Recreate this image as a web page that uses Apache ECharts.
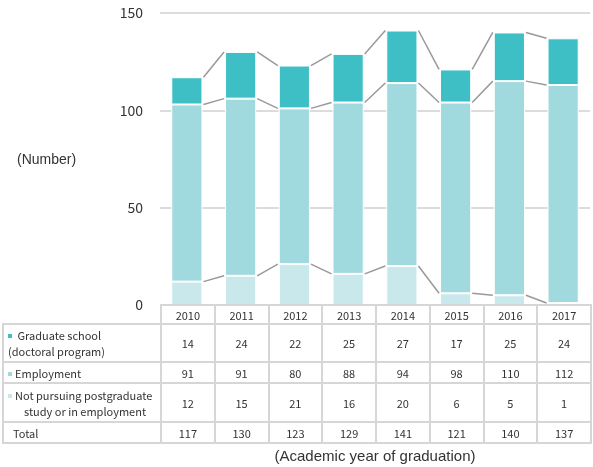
<!DOCTYPE html>
<html>
<head>
<meta charset="utf-8">
<script src="https://cdn.jsdelivr.net/npm/echarts@6/dist/echarts.min.js"></script>
<style>
  html, body { margin: 0; padding: 0; background: #fff; }
  #wrap { position: relative; width: 593px; height: 467px; }
  #chart { position: absolute; left: 0; top: 0; width: 593px; height: 467px; }
  #tbl {
    position: absolute; left: 2px; top: 304px;
    border-collapse: collapse; table-layout: fixed;
    font-family: "Noto Sans CJK JP", "DejaVu Sans", sans-serif; font-size: 11px; color: #333;
  }
  #tbl td { border: 2px solid #d6d6d6; padding: 0; text-align: center; line-height: 16px; }
  #tbl td.lab { text-align: left; padding-left: 4px; }
  #tbl td.blank { border: none; }
  .mk { display: inline-block; width: 4px; height: 4px; margin-right: 3px; vertical-align: middle; position: relative; top: -1px; }
  .ind { display: inline-block; padding-left: 16px; }
  #xname {
    position: absolute; left: 0; width: 750px; top: 447px; text-align: center;
    font-family: "Liberation Sans", Arial, sans-serif; font-size: 15px; color: #333;
  }
</style>
</head>
<body>
<div id="wrap">
  <div id="chart"></div>
  <table id="tbl"></table>
  <div id="xname">(Academic year of graduation)</div>
</div>
<script>
// 卒業年度
const years = ['2010', '2011', '2012', '2013', '2014', '2015', '2016', '2017'];
const doctoral = [14, 24, 22, 25, 27, 17, 25, 24];
const employment = [91, 91, 80, 88, 94, 98, 110, 112];
const notPursuing = [12, 15, 21, 16, 20, 6, 5, 1];
const totals = [117, 130, 123, 129, 141, 121, 140, 137];

const colors = { doctoral: '#3ebfc6', employment: '#a0d9de', notPursuing: '#c8e8ec' };
const yTicks = { min: 0, max: 150, interval: 50 };
const barPct = 0.58;

// table under the chart
const rowDefs = [
  { html: '<span class="mk" style="background:' + colors.doctoral + '"></span>&nbsp;Graduate school<br>(doctoral program)', vals: doctoral, h: 38 },
  { html: '<span class="mk" style="background:' + colors.employment + '"></span>Employment', vals: employment, h: 21 },
  { html: '<span class="mk" style="background:' + colors.notPursuing + '"></span>Not pursuing postgraduate<br><span class="ind">study or in employment</span>', vals: notPursuing, h: 39 },
  { html: '&nbsp;&nbsp;Total', vals: totals, h: 21 }
];
let tHtml = '<colgroup><col style="width:158px">' + years.map(() => '<col style="width:53.75px">').join('') + '</colgroup>';
tHtml += '<tr style="height:19px"><td class="blank"></td>' + years.map(y => '<td>' + y + '</td>').join('') + '</tr>';
rowDefs.forEach(r => {
  tHtml += '<tr style="height:' + r.h + 'px"><td class="lab">' + r.html + '</td>' + r.vals.map(v => '<td>' + v + '</td>').join('') + '</tr>';
});
document.getElementById('tbl').innerHTML = tHtml;

const chart = echarts.init(document.getElementById('chart'));

// 系列線 (lines joining the stack levels of neighbouring bars)
const levels = years.map((y, i) => [notPursuing[i], notPursuing[i] + employment[i], totals[i]]);

const connectors = {
  type: 'custom',
  silent: true,
  z: 1,
  data: years.slice(0, -1).map((y, i) => [i]),
  renderItem: (params, api) => {
    const i = api.value(0);
    const half = api.size([1, 0])[0] * barPct / 2;
    const children = [0, 1, 2].map(k => {
      const a = api.coord([i, levels[i][k]]);
      const b = api.coord([i + 1, levels[i + 1][k]]);
      return {
        type: 'line',
        shape: { x1: a[0] + half + 1, y1: a[1], x2: b[0] - half - 1, y2: b[1] },
        style: { stroke: '#999', lineWidth: 1.5 }
      };
    });
    return { type: 'group', children };
  }
};

const barSeries = (name, data, color) => ({
  name, type: 'bar', stack: 'all', data,
  barWidth: (barPct * 100) + '%',
  itemStyle: { color, borderColor: '#fff', borderWidth: 1 },
  emphasis: { disabled: true },
  z: 2
});

chart.setOption({
  animation: false,
  grid: { left: 160, right: 3, top: 13, bottom: 162 },
  graphic: [{
    type: 'text', left: 17, top: 153,
    style: { text: '(Number)', font: '14px "Liberation Sans", Arial, sans-serif', fill: '#333' }
  }],
  xAxis: {
    type: 'category', data: years,
    axisLine: { show: false }, axisTick: { show: false }, axisLabel: { show: false }
  },
  yAxis: {
    type: 'value', min: yTicks.min, max: yTicks.max, interval: yTicks.interval,
    axisLine: { show: false }, axisTick: { show: false },
    axisLabel: { color: '#333', fontSize: 14, margin: 17, fontFamily: '"Noto Sans CJK JP", sans-serif' },
    splitLine: { lineStyle: { color: '#d0d0d0', width: 1.5 } }
  },
  series: [
    barSeries('Not pursuing postgraduate study or in employment', notPursuing, colors.notPursuing),
    barSeries('Employment', employment, colors.employment),
    barSeries('Graduate school (doctoral program)', doctoral, colors.doctoral),
    connectors
  ]
});
</script>
</body>
</html>
